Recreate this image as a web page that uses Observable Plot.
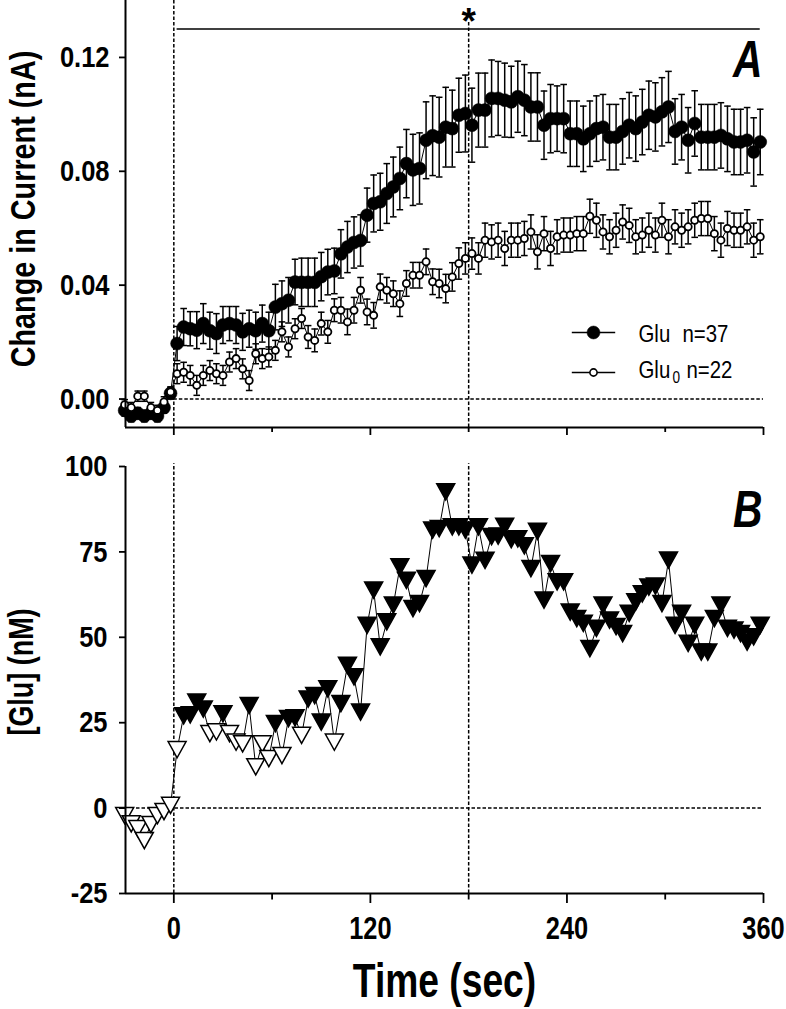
<!DOCTYPE html>
<html>
<head>
<meta charset="utf-8">
<script src="https://cdn.jsdelivr.net/npm/d3@7"></script>
<script src="https://cdn.jsdelivr.net/npm/@observablehq/plot@0.6"></script>
<style>
  html, body { margin: 0; padding: 0; background: #fff; }
  #chart svg { display: block; }
</style>
</head>
<body>
<div id="chart"></div>
<script>
// ---------- data ----------
const time = [-30,-26,-22,-18,-14,-10,-6,-2,
  2,6,10,14,18,22,26,30,34,38,
  42,46,50,54,58,62,66,70,74,78,
  82,86,90,94,98,102,106,110,114,118,
  122,126,130,134,138,142,146,150,154,158,
  162,166,170,174,178,182,186,190,194,198,
  202,206,210,214,218,222,226,230,234,238,
  242,246,250,254,258,262,266,270,274,278,
  282,286,290,294,298,302,306,310,314,318,
  322,326,330,334,338,342,346,350,354,358];

// Panel A: Glu (n=37), filled circles, mean and SEM (nA)
const glu = [-0.004,-0.006,-0.005,-0.006,-0.005,-0.006,-0.003,0.002,
  0.0195,0.0253,0.0247,0.0242,0.0265,0.0240,0.0230,0.0260,0.0265,0.0260,
  0.0236,0.0247,0.0240,0.0265,0.0240,0.0323,0.0335,0.0347,0.0411,0.0410,
  0.0410,0.0410,0.0430,0.0446,0.0450,0.0510,0.0534,0.0550,0.0557,0.0646,
  0.0687,0.0693,0.0722,0.0745,0.0775,0.0827,0.0805,0.0810,0.0909,0.0925,
  0.0920,0.0955,0.0950,0.0997,0.1003,0.0962,0.1015,0.1015,0.1056,0.1056,
  0.1050,0.1044,0.1062,0.1050,0.1026,0.1026,0.0962,0.0985,0.0985,0.0985,
  0.0932,0.0932,0.0914,0.0932,0.0950,0.0955,0.0920,0.0920,0.0940,0.0962,
  0.0950,0.0973,0.0997,0.0991,0.1009,0.1026,0.0940,0.0955,0.0909,0.0968,
  0.0920,0.0920,0.0920,0.0926,0.0914,0.0903,0.0903,0.0909,0.0868,0.0903];
const gluErr = [0.002,0.002,0.002,0.002,0.002,0.002,0.002,0.002,
  0.006,0.0065,0.006,0.0065,0.007,0.0065,0.007,0.0065,0.006,0.0065,
  0.0065,0.0065,0.0065,0.0065,0.0065,0.008,0.008,0.008,0.008,0.0085,
  0.0085,0.0085,0.0085,0.008,0.008,0.0085,0.009,0.009,0.009,0.0095,
  0.010,0.010,0.0105,0.0105,0.011,0.012,0.0125,0.0125,0.0135,0.014,
  0.014,0.014,0.0135,0.013,0.0135,0.013,0.013,0.013,0.0135,0.013,
  0.013,0.0125,0.0125,0.0125,0.012,0.012,0.012,0.012,0.0115,0.012,
  0.0115,0.0115,0.0115,0.0115,0.0115,0.0115,0.0115,0.0115,0.0115,0.0115,
  0.0115,0.0115,0.012,0.012,0.012,0.0125,0.0115,0.0115,0.0115,0.0115,
  0.0115,0.0115,0.0115,0.0115,0.0115,0.0115,0.0115,0.0115,0.012,0.0115];

// Panel A: Glu0 (n=22), open circles
const glu0 = [-0.002,-0.003,0.001,0.001,-0.003,-0.004,-0.001,0.0025,
  0.0089,0.0094,0.0083,0.0048,0.0083,0.0100,0.0089,0.0083,0.0130,0.0142,
  0.0106,0.0065,0.0159,0.0142,0.0148,0.0171,0.0236,0.0183,0.0247,0.0283,
  0.0218,0.0206,0.0265,0.0236,0.0312,0.0312,0.0271,0.0312,0.0382,0.0306,
  0.0294,0.0394,0.0382,0.0370,0.0335,0.0406,0.0435,0.0435,0.0482,0.0412,
  0.0406,0.0388,0.0429,0.0476,0.0494,0.0511,0.0494,0.0558,0.0552,0.0558,
  0.0529,0.0558,0.0558,0.0564,0.0587,0.0517,0.0581,0.0529,0.0570,0.0576,
  0.0576,0.0581,0.0581,0.0642,0.0628,0.0587,0.0570,0.0593,0.0622,0.0610,
  0.0570,0.0576,0.0593,0.0576,0.0628,0.0570,0.0605,0.0593,0.0605,0.0628,
  0.0634,0.0634,0.0581,0.0558,0.0599,0.0593,0.0593,0.0605,0.0558,0.0570];
const glu0Err = [0.0018,0.0018,0.0018,0.0018,0.0018,0.0018,0.0018,0.0018,
  0.0035,0.0035,0.0035,0.0035,0.0035,0.0035,0.0035,0.0035,0.0035,0.0035,
  0.0035,0.0035,0.0035,0.0035,0.0035,0.0035,0.0035,0.0035,0.0035,0.0035,
  0.004,0.004,0.004,0.004,0.004,0.0045,0.0045,0.0045,0.0045,0.0045,
  0.0045,0.0045,0.0045,0.0045,0.0045,0.0045,0.0045,0.0045,0.0045,0.0045,
  0.005,0.005,0.005,0.0055,0.0055,0.0055,0.0055,0.006,0.006,0.006,
  0.006,0.006,0.006,0.006,0.006,0.006,0.006,0.006,0.006,0.006,
  0.006,0.006,0.006,0.006,0.006,0.006,0.006,0.006,0.006,0.006,
  0.006,0.006,0.006,0.006,0.006,0.006,0.006,0.006,0.006,0.006,
  0.006,0.006,0.006,0.006,0.006,0.006,0.006,0.006,0.006,0.006];

// Panel B: [Glu] (nM); 1 = filled triangle, 0 = open triangle
const glutamate = [-2.2,-4.6,-6.0,-9.5,-4.8,-2.2,-1.0,0.8,
  17.1,27.0,27.3,31.0,29.0,21.8,22.3,27.6,21.8,19.3,
  18.8,30.0,12.1,18.8,14.5,24.7,15.4,26.2,26.4,21.3,
  31.9,32.9,25.2,34.9,19.3,30.6,41.8,38.4,28.1,53.5,
  63.8,47.2,54.5,59.4,70.6,66.7,58.4,59.9,67.2,81.4,
  81.8,92.6,82.3,82.3,81.4,71.1,82.3,72.5,79.5,79.6,
  82.5,78.6,78.8,76.8,70.1,81.0,60.9,71.6,66.2,66.2,
  57.4,55.5,54.1,46.7,52.6,59.4,55.0,53.1,51.1,57.0,
  60.4,62.7,64.7,65.0,59.9,72.6,53.5,57.0,48.2,53.5,
  45.7,45.7,55.5,59.4,52.6,52.1,51.1,48.6,50.1,53.5];
const glutamateFilled = [0,0,0,0,0,0,0,0,
  0,1,1,1,1,0,0,1,0,0,
  0,1,0,0,0,1,0,1,1,0,
  1,1,1,1,0,1,1,1,1,1,
  1,1,1,1,1,1,1,1,1,1,
  1,1,1,1,1,1,1,1,1,1,
  1,1,1,1,1,1,1,1,1,1,
  1,1,1,1,1,1,1,1,1,1,
  1,1,1,1,1,1,1,1,1,1,
  1,1,1,1,1,1,1,1,1,1];

const xTicksMajor = [0, 120, 240, 360];
const xTicksMinor = [60, 180, 300];
const yTicksA = [0, 0.04, 0.08, 0.12];
const yTicksB = [-25, 0, 25, 50, 75, 100];
const seriesLabels = ["Glu", "n=37", "Glu", "0", "n=22"];
const xLabel = "Time (sec)";
const yLabelA = "Change in Current (nA)";
const yLabelB = "[Glu] (nM)";
const panelLabels = ["A", "B"];
const stimulusTimes = [0, 180];

// ---------- tables ----------
const rowsA = time.map((t, i) => ({t, glu: glu[i], gluErr: gluErr[i], glu0: glu0[i], glu0Err: glu0Err[i]}));
const rowsB = time.map((t, i) => ({t, v: glutamate[i], filled: glutamateFilled[i] === 1}));

// ---------- styling ----------
const FONT = '"Liberation Sans", Arial, Helvetica, sans-serif';
const X_DOMAIN = [-29.5, 360];
const dash = {stroke: "black", strokeWidth: 1.5, strokeDasharray: "3.5,2"};
const capSym = {draw(ctx, size) { const r = Math.sqrt(size / Math.PI); ctx.moveTo(-r, 0); ctx.lineTo(r, 0); }};
const triDown = {draw(ctx, size) {
  const r = Math.sqrt(size / Math.PI);
  ctx.moveTo(-r, -0.9 * r); ctx.lineTo(r, -0.9 * r); ctx.lineTo(0, 0.9 * r); ctx.closePath();
}};
const plainNum = d => `${d}`;

const plotA = Plot.plot({
  width: 786, height: 440,
  marginLeft: 125, marginRight: 23, marginTop: 0, marginBottom: 13,
  x: {domain: X_DOMAIN, label: null},
  y: {domain: [-0.01, 0.14], label: null},
  style: {fontFamily: FONT, color: "black", background: "white"},
  marks: [
    Plot.ruleY([0], {x1: 0, x2: 360, ...dash}),
    Plot.ruleX([stimulusTimes[0]], {y1: -0.01, y2: 0.14, ...dash}),
    Plot.ruleX([stimulusTimes[1]], {y1: -0.01, y2: 0.1325, ...dash}),
    Plot.ruleY([0.13], {x1: 2, x2: 358, stroke: "black", strokeWidth: 1.5}),
    Plot.text([stimulusTimes[1]], {x: d => d, frameAnchor: "top", lineAnchor: "top", dy: 7,
      text: () => "*", fontSize: 37, fontWeight: "bold"}),

    // Glu (filled)
    Plot.ruleX(rowsA, {x: "t", y1: d => d.glu - d.gluErr, y2: d => d.glu + d.gluErr, stroke: "black", strokeWidth: 1.5}),
    Plot.dot(rowsA, {x: "t", y: d => d.glu + d.gluErr, symbol: capSym, r: 3.3, stroke: "black", fill: "none", strokeWidth: 1.5}),
    Plot.dot(rowsA, {x: "t", y: d => d.glu - d.gluErr, symbol: capSym, r: 3.3, stroke: "black", fill: "none", strokeWidth: 1.5}),
    Plot.line(rowsA, {x: "t", y: "glu", stroke: "black", strokeWidth: 1}),
    Plot.dot(rowsA, {x: "t", y: "glu", r: 6.5, fill: "black", stroke: "black", strokeWidth: 0.5}),

    // Glu0 (open)
    Plot.ruleX(rowsA, {x: "t", y1: d => d.glu0 - d.glu0Err, y2: d => d.glu0 + d.glu0Err, stroke: "black", strokeWidth: 1.5}),
    Plot.dot(rowsA, {x: "t", y: d => d.glu0 + d.glu0Err, symbol: capSym, r: 3.3, stroke: "black", fill: "none", strokeWidth: 1.5}),
    Plot.dot(rowsA, {x: "t", y: d => d.glu0 - d.glu0Err, symbol: capSym, r: 3.3, stroke: "black", fill: "none", strokeWidth: 1.5}),
    Plot.line(rowsA, {x: "t", y: "glu0", stroke: "black", strokeWidth: 1}),
    Plot.dot(rowsA, {x: "t", y: "glu0", r: 3.6, fill: "white", stroke: "black", strokeWidth: 1.8}),

    // legend
    Plot.dot([0], {frameAnchor: "top-left", dx: 468, dy: 332, symbol: capSym, r: 21.7, stroke: "black", fill: "none", strokeWidth: 1.3}),
    Plot.dot([0], {frameAnchor: "top-left", dx: 468, dy: 332, r: 6.5, fill: "black", stroke: "black", strokeWidth: 0.5}),
    Plot.dot([0], {frameAnchor: "top-left", dx: 468, dy: 372, symbol: capSym, r: 21.7, stroke: "black", fill: "none", strokeWidth: 1.3}),
    Plot.dot([0], {frameAnchor: "top-left", dx: 468, dy: 372, r: 3.6, fill: "white", stroke: "black", strokeWidth: 1.6}),
    Plot.text([seriesLabels[0]], {frameAnchor: "top-left", dx: 513, dy: 334, textAnchor: "start", lineAnchor: "middle", fontSize: 24}),
    Plot.text([seriesLabels[1]], {frameAnchor: "top-left", dx: 557, dy: 334, textAnchor: "start", lineAnchor: "middle", fontSize: 24}),
    Plot.text([seriesLabels[2]], {frameAnchor: "top-left", dx: 513, dy: 370, textAnchor: "start", lineAnchor: "middle", fontSize: 24}),
    Plot.text([seriesLabels[3]], {frameAnchor: "top-left", dx: 547, dy: 377, textAnchor: "start", lineAnchor: "middle", fontSize: 16}),
    Plot.text([seriesLabels[4]], {frameAnchor: "top-left", dx: 561, dy: 370, textAnchor: "start", lineAnchor: "middle", fontSize: 24}),

    // panel label
    Plot.text([panelLabels[0]], {frameAnchor: "top-right", textAnchor: "end", lineAnchor: "top", dy: 40, dx: -1,
      fontSize: 51, fontWeight: "bold", fontStyle: "italic"}),

    // axes
    Plot.axisY(yTicksA, {anchor: "left", tickSize: 6, tickPadding: 10, tickFormat: d3.format(".2f"),
      fontSize: 30, fontWeight: "bold", strokeWidth: 1.8, label: null}),
    Plot.axisX(xTicksMajor, {anchor: "bottom", tickSize: 8, tickFormat: () => "", strokeWidth: 1.8, label: null}),
    Plot.axisX(xTicksMinor, {anchor: "bottom", tickSize: 5, tickFormat: () => "", strokeWidth: 1.8, label: null}),
    Plot.ruleX([X_DOMAIN[0]], {stroke: "black", strokeWidth: 2}),
    Plot.ruleY([-0.01], {stroke: "black", strokeWidth: 2}),
    Plot.text([yLabelA], {frameAnchor: "left", rotate: -90, dx: -102, dy: -5, textAnchor: "middle", lineAnchor: "middle",
      fontSize: 36, fontWeight: "bold"})
  ]
});

const plotB = Plot.plot({
  width: 786, height: 569,
  marginLeft: 125, marginRight: 23, marginTop: 26, marginBottom: 116,
  x: {domain: X_DOMAIN, label: null},
  y: {domain: [-25, 100], label: null},
  style: {fontFamily: FONT, color: "black", background: "white"},
  marks: [
    Plot.ruleY([0], {x1: X_DOMAIN[0], x2: 360, ...dash}),
    Plot.ruleX(stimulusTimes, {y1: -25, y2: 100.8, ...dash}),
    Plot.line(rowsB, {x: "t", y: "v", stroke: "black", strokeWidth: 1}),
    Plot.dot(rowsB, {x: "t", y: "v", symbol: triDown, r: 9, fill: d => d.filled ? "black" : "white",
      stroke: "black", strokeWidth: 1.5}),
    Plot.text([panelLabels[1]], {frameAnchor: "top-right", textAnchor: "end", lineAnchor: "top", dy: 24, dx: -1,
      fontSize: 51, fontWeight: "bold", fontStyle: "italic"}),
    Plot.axisY(yTicksB, {anchor: "left", tickSize: 6, tickPadding: 12, tickFormat: plainNum, fontSize: 30, fontWeight: "bold",
      strokeWidth: 1.8, label: null}),
    Plot.axisX(xTicksMajor, {anchor: "bottom", tickSize: 10, tickPadding: 13, tickFormat: plainNum, fontSize: 31, fontWeight: "bold",
      strokeWidth: 1.8, label: null}),
    Plot.axisX(xTicksMinor, {anchor: "bottom", tickSize: 6.5, tickFormat: () => "", strokeWidth: 1.8, label: null}),
    Plot.ruleX([X_DOMAIN[0]], {stroke: "black", strokeWidth: 2}),
    Plot.ruleY([-25], {stroke: "black", strokeWidth: 2}),
    Plot.text([xLabel], {frameAnchor: "bottom", lineAnchor: "bottom", dy: 103, fontSize: 48, fontWeight: "bold"}),
    Plot.text([yLabelB], {frameAnchor: "left", rotate: -90, dx: -104, dy: -8, textAnchor: "middle", lineAnchor: "middle",
      fontSize: 35, fontWeight: "bold"})
  ]
});

const chart = document.getElementById("chart");
chart.appendChild(plotA);
chart.appendChild(plotB);

// condensed (narrow) lettering, as in the original figure: squeeze each text along its baseline
const SX = {16: 0.85, 24: 0.85, 30: 0.85, 31: 0.82, 35: 0.77, 36: 0.8, 48: 0.775, 51: 0.8};
function condense(svg) {
  svg.querySelectorAll("text").forEach(el => {
    const fs = Math.round(parseFloat(getComputedStyle(el).fontSize));
    const sx = SX[fs];
    if (!sx) return;
    const tr = el.getAttribute("transform") || "";
    el.setAttribute("transform", `${tr} scale(${sx},1)`);
  });
}
condense(plotA);
condense(plotB);
</script>
</body>
</html>
